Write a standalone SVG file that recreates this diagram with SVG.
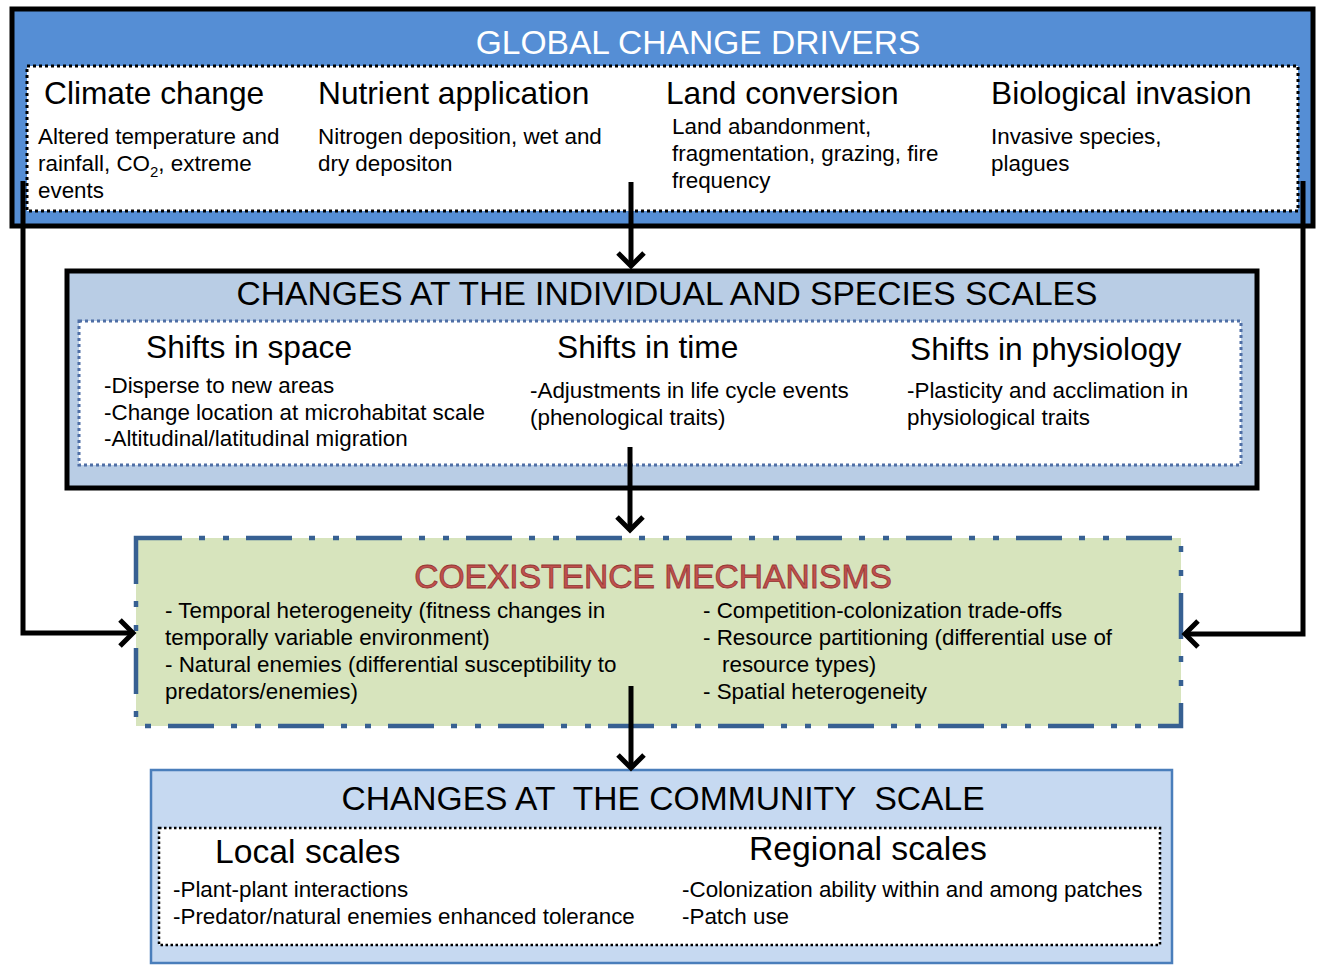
<svg xmlns="http://www.w3.org/2000/svg" width="1324" height="973" viewBox="0 0 1324 973">
<defs>
<style>
text{font-family:"Liberation Sans",Arial,sans-serif;fill:#000}
.h1{font-size:33.6px}
.h2{font-size:31.7px}
.h3{font-size:33.7px}
.b{font-size:22.4px}
.conn{fill:none;stroke:#000;stroke-width:5;stroke-linejoin:miter}
</style>
<marker id="arr" markerUnits="userSpaceOnUse" markerWidth="40" markerHeight="40" viewBox="-20 -20 40 40" refX="0" refY="0" orient="auto">
<path d="M-13,-13 L0,0 L-13,13" fill="none" stroke="#000" stroke-width="5"/>
</marker>
</defs>

<g id="drivers">
<rect x="12" y="9" width="1301" height="217" fill="#558ED5" stroke="#000" stroke-width="5"/>
<rect x="27" y="66" width="1271" height="145" fill="#fff" stroke="#000" stroke-width="3" stroke-dasharray="3 3"/>
<text class="h1" x="698" y="54" text-anchor="middle" style="fill:#fff">GLOBAL CHANGE DRIVERS</text>
<text class="h2" x="44" y="104">Climate change</text>
<text class="b" x="38" y="144">Altered temperature and</text>
<text class="b" x="38" y="171">rainfall, CO<tspan font-size="15" dy="6">2</tspan><tspan dy="-6">, extreme</tspan></text>
<text class="b" x="38" y="198">events</text>
<text class="h2" x="318" y="104">Nutrient application</text>
<text class="b" x="318" y="144">Nitrogen deposition, wet and</text>
<text class="b" x="318" y="171">dry depositon</text>
<text class="h2" x="666" y="104">Land conversion</text>
<text class="b" x="672" y="134">Land abandonment,</text>
<text class="b" x="672" y="161">fragmentation, grazing, fire</text>
<text class="b" x="672" y="188">frequency</text>
<text class="h2" x="991" y="104">Biological invasion</text>
<text class="b" x="991" y="144">Invasive species,</text>
<text class="b" x="991" y="171">plagues</text>
</g>

<g id="species">
<rect x="67" y="271" width="1190" height="217" fill="#B9CDE5" stroke="#000" stroke-width="5"/>
<rect x="79" y="321" width="1162" height="144" fill="#fff" stroke="#4F6FA6" stroke-width="3" stroke-dasharray="3 3"/>
<text class="h1" x="667" y="305" text-anchor="middle">CHANGES AT THE INDIVIDUAL AND SPECIES SCALES</text>
<text class="h2" x="146" y="358">Shifts in space</text>
<text class="b" x="104" y="393">-Disperse to new areas</text>
<text class="b" x="104" y="420">-Change location at microhabitat scale</text>
<text class="b" x="104" y="446">-Altitudinal/latitudinal migration</text>
<text class="h2" x="557" y="358">Shifts in time</text>
<text class="b" x="530" y="398">-Adjustments in life cycle events</text>
<text class="b" x="530" y="425">(phenological traits)</text>
<text class="h2" x="910" y="360">Shifts in physiology</text>
<text class="b" x="907" y="398">-Plasticity and acclimation in</text>
<text class="b" x="907" y="425">physiological traits</text>
</g>

<g id="coexistence">
<rect x="136" y="538" width="1045" height="188" fill="#D7E4BD" stroke="#376092" stroke-width="4.5" stroke-dasharray="46 17 6 18 6 17"/>
<text class="h1" x="653" y="588" text-anchor="middle" style="fill:#C0504D;stroke:#943634;stroke-width:0.8">COEXISTENCE MECHANISMS</text>
<text class="b" x="165" y="618">- Temporal heterogeneity (fitness changes in</text>
<text class="b" x="165" y="645">temporally variable environment)</text>
<text class="b" x="165" y="672">- Natural enemies (differential susceptibility to</text>
<text class="b" x="165" y="699">predators/enemies)</text>
<text class="b" x="703" y="618">- Competition-colonization trade-offs</text>
<text class="b" x="703" y="645">- Resource partitioning (differential use of</text>
<text class="b" x="722" y="672">resource types)</text>
<text class="b" x="703" y="699">- Spatial heterogeneity</text>
</g>

<g id="community">
<rect x="151" y="770" width="1021" height="193" fill="#C6D9F1" stroke="#4A7EBB" stroke-width="2.5"/>
<rect x="159" y="828" width="1001" height="117" fill="#fff" stroke="#000" stroke-width="2.5" stroke-dasharray="2.5 2.5"/>
<text class="h1" x="663" y="810" text-anchor="middle" xml:space="preserve">CHANGES AT  THE COMMUNITY  SCALE</text>
<text class="h3" x="215" y="863">Local scales</text>
<text class="b" x="173" y="897">-Plant-plant interactions</text>
<text class="b" x="173" y="924">-Predator/natural enemies enhanced tolerance</text>
<text class="h3" x="749" y="860">Regional scales</text>
<text class="b" x="682" y="897">-Colonization ability within and among patches</text>
<text class="b" x="682" y="924">-Patch use</text>
</g>

<g id="connectors">
<path class="conn" d="M23,181 V633 H133" marker-end="url(#arr)"/>
<path class="conn" d="M1303,181 V634 H1185" marker-end="url(#arr)"/>
<path class="conn" d="M631,182 V266" marker-end="url(#arr)"/>
<path class="conn" d="M630,447 V530" marker-end="url(#arr)"/>
<path class="conn" d="M631,686 V768" marker-end="url(#arr)"/>
</g>
</svg>
